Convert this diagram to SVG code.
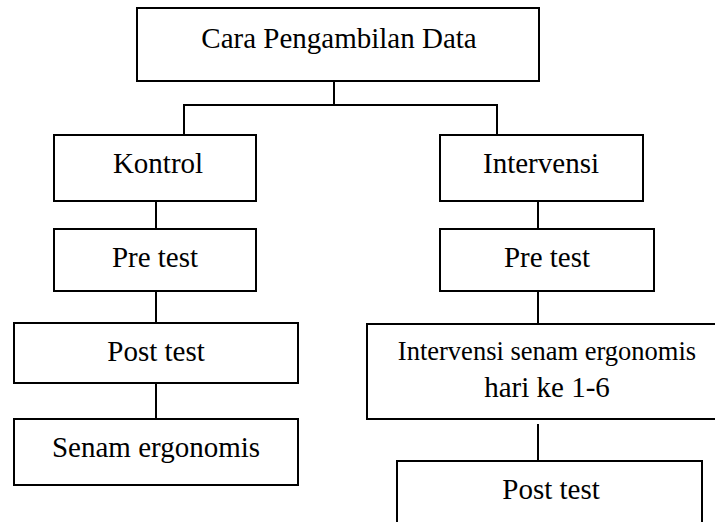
<svg xmlns="http://www.w3.org/2000/svg" width="715" height="522" viewBox="0 0 715 522">
<style>
rect{fill:#fff;stroke:#000;stroke-width:2}
.c line{stroke:#000;stroke-width:2}
text{font-family:"Liberation Serif","Times New Roman",serif;font-size:29px;fill:#000;text-anchor:middle}
</style>
<rect x="0" y="0" width="715" height="522" style="stroke:none"/>
<g class="c" id="connectors">
<line x1="334" y1="81" x2="334" y2="106"/>
<line x1="184" y1="105" x2="497" y2="105"/>
<line x1="184" y1="104" x2="184" y2="135"/>
<line x1="497" y1="104" x2="497" y2="135"/>
<line x1="156" y1="201" x2="156" y2="229"/>
<line x1="156" y1="291" x2="156" y2="323"/>
<line x1="156" y1="383" x2="156" y2="419"/>
<line x1="538" y1="201" x2="538" y2="229"/>
<line x1="538" y1="291" x2="538" y2="324"/>
<line x1="538" y1="424" x2="538" y2="461"/>
</g>
<g id="root"><rect x="137" y="8" width="402" height="73"/><text x="339" y="48">Cara Pengambilan Data</text></g>
<g id="kontrol"><rect x="54" y="135" width="202" height="66"/><text x="158" y="173">Kontrol</text></g>
<g id="pre-left"><rect x="54" y="229" width="202" height="62"/><text x="155" y="267">Pre test</text></g>
<g id="post-left"><rect x="14" y="323" width="284" height="60"/><text x="156" y="361">Post test</text></g>
<g id="senam"><rect x="14" y="419" width="284" height="66"/><text x="156" y="457">Senam ergonomis</text></g>
<g id="intervensi"><rect x="440" y="135" width="203" height="66"/><text x="541" y="173">Intervensi</text></g>
<g id="pre-right"><rect x="440" y="229" width="214" height="62"/><text x="547" y="267">Pre test</text></g>
<g id="int-senam"><rect x="367" y="324" width="360" height="95"/><text x="547" y="360" style="font-size:26.5px">Intervensi senam ergonomis</text><text x="547" y="397">hari ke 1-6</text></g>
<g id="post-right"><rect x="397" y="461" width="305" height="80"/><text x="551" y="499">Post test</text></g>
</svg>
